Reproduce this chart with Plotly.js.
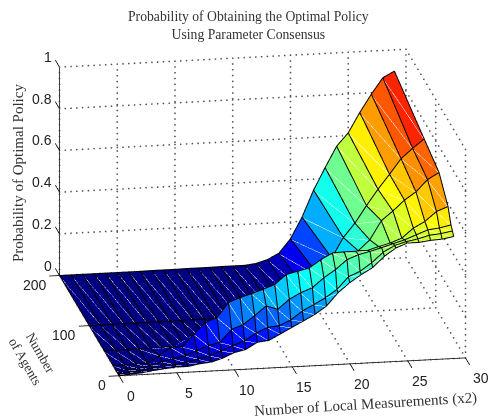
<!DOCTYPE html>
<html><head><meta charset="utf-8">
<script src="https://cdn.plot.ly/plotly-3.0.1.min.js"></script>
<style>html,body{margin:0;padding:0;background:#fff}</style></head>
<body><div id="chart" style="width:491px;height:416px"></div>
<script>
var xValues=[0,1,2,3,4,5,6,7,8,9,10,11,12,13,14,15,16,17,18,19,20,21,22,23,24,25,26,27,28,29];
var yValues=[1,5,10,20,50,100,200];
var zAgents1=[0,.002,.006,.014,.02,.025,.025,.035,.04,.056,.08,.092,.124,.13,.158,.187,.215,.244,.281,.342,.387,.423,.454,.505,.542,.563,.563,.57,.573,.583];
var zAgents5=[0,.002,.006,.018,.026,.028,.036,.049,.062,.083,.105,.125,.159,.183,.188,.213,.253,.281,.311,.348,.406,.429,.467,.515,.545,.56,.57,.585,.59,.6];
var zAgents10=[0,.002,.005,.017,.033,.043,.056,.077,.098,.111,.17,.19,.23,.274,.255,.3,.329,.35,.395,.431,.476,.497,.51,.525,.541,.557,.578,.599,.605,.617];
var zAgents20=[0,.001,.002,.004,.038,.075,.075,.132,.185,.206,.275,.296,.312,.33,.35,.395,.408,.421,.458,.487,.489,.489,.49,.506,.52,.541,.586,.615,.66,.681];
var zAgents50=[0,0,0,.001,.001,.001,.002,.002,.003,.004,.006,.009,.013,.019,.027,.04,.06,.09,.13,.18,.24,.33,.417,.466,.555,.599,.648,.685,.741,.772];
var zAgents100=[0,0,.001,.001,.001,.001,.002,.002,.002,.003,.003,.004,.006,.007,.009,.013,.02,.032,.055,.1,.175,.265,.36,.426,.507,.583,.652,.724,.771,.813];
var zAgents200=[0,0,0,0,0,0,0,0,.001,.001,.001,.002,.002,.002,.003,.003,.003,.009,.025,.053,.119,.22,.347,.452,.552,.613,.708,.793,.869,.898];
var zRows=[zAgents1,zAgents5,zAgents10,zAgents20,zAgents50,zAgents100,zAgents200];
var xTicks=[0,5,10,15,20,25,30];
var yTicks=[0,100,200];
var zTicks=[0,0.2,0.4,0.6,0.8,1];
var zTickText=['0','0.2','0.4','0.6','0.8','1'];
var xMax=30,yMax=200,zMax=1;
var jet=[[0,'rgb(0,0,128)'],[0.125,'rgb(0,0,255)'],[0.375,'rgb(0,255,255)'],[0.625,'rgb(255,255,0)'],[0.875,'rgb(255,0,0)'],[1,'rgb(128,0,0)']];

// faces: split along the quad diagonal, coloured by the mean of the four corners
var vx=[],vy=[],vz=[],ti=[],tj=[],tk=[],cell=[];
var nx=xValues.length,ny=yValues.length;
yValues.forEach(function(y,r){xValues.forEach(function(x,c){vx.push(x);vy.push(y);vz.push(zRows[r][c]);});});
for(var r=0;r<ny-1;r++){for(var c=0;c<nx-1;c++){
  var a=r*nx+c,b=a+1,d=a+nx,e=d+1,col=(zRows[r][c]+zRows[r][c+1]+zRows[r+1][c]+zRows[r+1][c+1])/4;
  ti.push(a,b);tj.push(b,e);tk.push(d,d);cell.push(col,col);
}}
var surface={type:'mesh3d',x:vx,y:vy,z:vz,i:ti,j:tj,k:tk,intensity:cell,intensitymode:'cell',
  colorscale:jet,cmin:0,cmax:1,showscale:false,flatshading:true,hoverinfo:'skip',
  lighting:{ambient:1,diffuse:0,specular:0,roughness:1,fresnel:0}};

// wire lines, nudged along the view direction so the faces do not hide them
var liftX=-0.057,liftY=-2.2,liftZ=0.0055;
var wx=[],wy=[],wz=[];
yValues.forEach(function(y,r){xValues.forEach(function(x,c){wx.push(x+liftX);wy.push(y+liftY);wz.push(zRows[r][c]+liftZ);});wx.push(null);wy.push(null);wz.push(null);});
xValues.forEach(function(x,c){yValues.forEach(function(y,r){wx.push(x+liftX);wy.push(y+liftY);wz.push(zRows[r][c]+liftZ);});wx.push(null);wy.push(null);wz.push(null);});
var wire={type:'scatter3d',mode:'lines',x:wx,y:wy,z:wz,line:{color:'#000',width:2},hoverinfo:'skip',showlegend:false};

// faint seam on each quad diagonal
var sx=[],sy=[],sz=[];
for(var r2=0;r2<ny-1;r2++){for(var c2=0;c2<nx-1;c2++){
  sx.push(xValues[c2]+liftX,xValues[c2+1]+liftX,null);
  sy.push(yValues[r2+1]+liftY,yValues[r2]+liftY,null);
  sz.push(zRows[r2+1][c2]+liftZ/2,zRows[r2][c2+1]+liftZ/2,null);
}}
var seam={type:'scatter3d',mode:'lines',x:sx,y:sy,z:sz,line:{color:'rgba(255,255,255,0.12)',width:1},hoverinfo:'skip',showlegend:false};

// dotted grid: rows of small markers along each grid line
var gx=[],gy=[],gz=[];
function seg(p,q,n){for(var i=0;i<=n;i++){var f=i/n;gx.push(p[0]+(q[0]-p[0])*f);gy.push(p[1]+(q[1]-p[1])*f);gz.push(p[2]+(q[2]-p[2])*f);}}
xTicks.forEach(function(x){seg([x,yMax,0],[x,yMax,zMax],36);seg([x,0,0],[x,yMax,0],20);});
yTicks.forEach(function(y){seg([xMax,y,0],[xMax,y,zMax],36);seg([0,y,0],[xMax,y,0],60);});
zTicks.forEach(function(z){seg([0,yMax,z],[xMax,yMax,z],60);seg([xMax,0,z],[xMax,yMax,z],20);});
var grid={type:'scatter3d',mode:'markers',x:gx,y:gy,z:gz,marker:{color:'#555',size:1,opacity:1,line:{width:0}},hoverinfo:'skip',showlegend:false};

var ax=[],ay=[],az=[];
function aseg(p,q){ax.push(p[0],q[0],null);ay.push(p[1],q[1],null);az.push(p[2],q[2],null);}
aseg([0,yMax,0],[0,yMax,zMax]);aseg([0,0,0],[xMax,0,0]);aseg([0,0,0],[0,yMax,0]);
xTicks.forEach(function(x){aseg([x,0,0],[x,-14,0]);});
yTicks.forEach(function(y){aseg([0,y,0],[-0.9,y,0]);});
zTicks.forEach(function(z){aseg([0,yMax,z],[0,yMax+14,z]);});
var axes={type:'scatter3d',mode:'lines',x:ax,y:ay,z:az,line:{color:'#000',width:1.6},hoverinfo:'skip',showlegend:false};

var tickFont={family:'Liberation Sans',size:14,color:'#222'};
var sceneAnn=[];
xTicks.forEach(function(x){sceneAnn.push({x:x,y:0,z:0,text:String(x),showarrow:false,font:tickFont,xanchor:'center',yanchor:'middle',xshift:x==30?16:12,yshift:-20});});
yTicks.forEach(function(y){sceneAnn.push({x:0,y:y,z:0,text:String(y),showarrow:false,font:tickFont,xanchor:'right',yanchor:'middle',xshift:-11,yshift:-9.5});});
zTicks.forEach(function(z,i){sceneAnn.push({x:0,y:yMax,z:z,text:zTickText[i],showarrow:false,font:tickFont,xanchor:'right',yanchor:'middle',xshift:-6,yshift:10});});

var hidden={visible:false,showgrid:false,zeroline:false,showspikes:false};
function axisCfg(lo,hi){return Object.assign({range:[lo,hi]},hidden);}
var serif='Liberation Serif';
function paper(px,py,text,angle,size){return {xref:'paper',yref:'paper',x:px/491,y:1-py/416,text:text,textangle:angle,showarrow:false,xanchor:'center',yanchor:'middle',font:{family:serif,size:size,color:'#333'}};}
var layout={width:491,height:416,margin:{l:0,r:0,t:0,b:0},paper_bgcolor:'#fff',showlegend:false,
 annotations:[paper(248,25,'Probability of Obtaining the Optimal Policy<br>Using Parameter Consensus',0,13.7),
  paper(365,404,'Number of Local Measurements (x2)',-3.5,15),paper(33,357,'Number<br>of Agents',60,13.5),paper(18,173,'Probability of Optimal Policy',-90,15)],
 scene:{domain:{x:[34/491,1],y:[0,407/416]},
  xaxis:axisCfg(-3,33),yaxis:axisCfg(-20,220),zaxis:axisCfg(-0.1,1.1),
  aspectmode:'manual',aspectratio:{x:2.074,y:2.037,z:1.286},
  camera:{projection:{type:'orthographic'},up:{x:0,y:0,z:1},center:{x:0,y:0,z:0},eye:{x:-0.1648*1.089,y:-0.9417*1.089,z:0.2947*1.089}},
  annotations:sceneAnn}};
Plotly.newPlot('chart',[grid,surface,wire,seam,axes],layout,{displayModeBar:false});
</script></body></html>
